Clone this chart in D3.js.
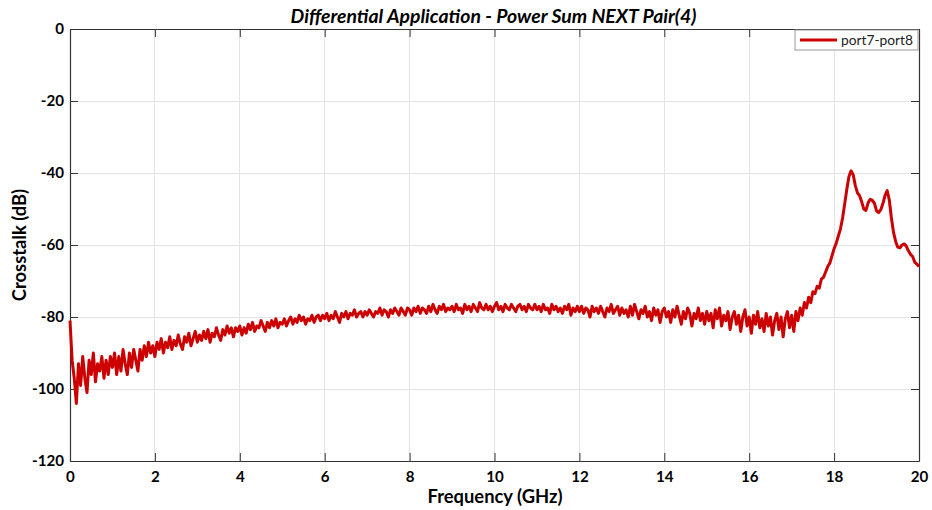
<!DOCTYPE html>
<html>
<head>
<meta charset="utf-8">
<script src="https://cdn.jsdelivr.net/npm/d3@7"></script>
<style>
  html, body { margin: 0; padding: 0; background: #fff; }
  svg { display: block; }
  text { font-family: Lato, "Open Sans", sans-serif; }
</style>
</head>
<body>
<svg id="chart" width="932" height="510"></svg>
<script>
// ---------------- data ----------------
const chartTitle = "Differential Application - Power Sum NEXT Pair(4)";
const xLabel = "Frequency (GHz)";
const yLabel = "Crosstalk (dB)";
const seriesName = "port7-port8";
const xTicks = [0, 2, 4, 6, 8, 10, 12, 14, 16, 18, 20];
const yTicks = [0, -20, -40, -60, -80, -100, -120];
const freqStartGHz = 0;
const freqStepGHz = 0.05;
// crosstalk (dB), one value every 0.05 GHz from 0 to 20 GHz (one row per GHz)
const crosstalkDb = [
  -81, -92, -97, -104, -93, -99, -91, -97, -101, -92, -96, -90, -98, -93, -95, -91, -97, -92, -96, -91,
  -94, -90, -96, -91, -95, -89, -93, -96, -90, -94, -89, -92, -95, -89, -92, -88, -91, -87, -90, -88,
  -91, -87, -89, -86, -90, -87, -88.5, -85.5, -89, -86.5, -88, -85, -87.5, -89, -85.5, -87, -84.5, -88, -86, -84,
  -87, -85, -86.5, -84, -86, -83.5, -87, -84.5, -85.5, -83, -85, -86.5, -83.5, -85, -82.5, -84.5, -83, -85.5, -83, -84,
  -82.5, -85, -83, -84.5, -82, -83.5, -81.5, -84, -82.5, -83, -81, -82.5, -84, -81.5, -83, -81, -82.5, -80.5, -83, -81.5,
  -82, -80.5, -82.5, -81, -80, -82, -80.5, -81.5, -79.5, -81, -80, -82, -80.5, -81, -79.5, -81.5, -80, -79.5, -81, -79.5,
  -80.5, -79, -81, -79.5, -80.5, -78.5, -80, -81.5, -79, -80, -78.5, -80.5, -79, -79.5, -78, -80, -79, -78.5, -80, -78.5,
  -79.5, -78, -79, -80, -78.5, -79, -77.5, -79.5, -78, -78.5, -80, -78, -79, -77.5, -78.5, -79.5, -77.5, -78.5, -79.5, -77.5,
  -78, -79.5, -77.5, -78.5, -77, -79, -77.5, -78, -79, -77, -78.5, -76.5, -78, -79, -77, -78, -76.5, -78.5, -77.5, -78,
  -77, -78.5, -76.5, -78, -77.5, -79, -76.5, -78, -77, -78.5, -76.5, -77.5, -78.5, -76, -77.5, -78, -76.5, -78, -77, -78.5,
  -77, -76, -78, -77, -78.5, -76.5, -77.5, -78, -76.5, -77.5, -78.5, -77, -76.5, -78, -77, -78.5, -76.5, -77.5, -78, -76.5,
  -78, -77, -78.5, -76.5, -78, -77.5, -79, -76.5, -78, -77, -78.5, -77.5, -79, -77, -78, -76.5, -79.5, -77.5, -78.5, -77,
  -78.5, -77, -79, -77.5, -78, -80, -77, -78.5, -77.5, -79, -77, -78.5, -80, -77.5, -78.5, -76.5, -79, -78, -77, -79.5,
  -77.5, -79, -78, -80, -77, -79.5, -76.5, -78.5, -80.5, -78, -79, -77, -80, -78.5, -81, -77.5, -79.5, -78, -81.5, -78.5,
  -77.5, -80, -78.5, -81.5, -78, -80, -77, -79.5, -82, -78.5, -80.5, -77.5, -79, -82.5, -79, -80.5, -77.5, -81, -79, -82,
  -78.5, -81, -79, -83, -78, -80.5, -77.5, -82.5, -79.5, -81, -78.5, -83.5, -80, -78.5, -82, -79.5, -84, -80, -78, -82.5,
  -80, -84.5, -79.5, -82, -78.5, -83, -80.5, -84, -79, -82.5, -80, -85, -81, -79, -83.5, -80, -85.5, -80.5, -78.5, -83,
  -79.5, -84, -78.5, -81, -77.5, -79.5, -76, -77.5, -74.5, -76, -73, -73.5, -71.5, -72, -69.5, -69, -67.5, -66, -65, -63,
  -61, -59.5, -57.5, -55.5, -52.5, -48.5, -44.5, -41, -39.4, -40.5, -43.5, -45.5, -46.3, -48, -50, -50.4, -48.3, -47.3, -47.6, -48.4,
  -50.5, -51, -50.2, -48.5, -46.2, -44.9, -47.5, -52.5, -56.5, -59, -60.6, -60.8, -60, -59.7, -60.3, -61.6, -62.6, -63.2, -64.8, -65.3,
  -66
];

// ---------------- layout ----------------
const W = 932, H = 510;
const margin = { top: 29, right: 13, bottom: 49, left: 70 };
const iw = W - margin.left - margin.right;
const ih = H - margin.top - margin.bottom;
const lineColor = "#cc0000";
const axisColor = "#333333";

const svg = d3.select("#chart");
const g = svg.append("g").attr("transform", `translate(${margin.left},${margin.top})`);

const x = d3.scaleLinear().domain([0, 20]).range([0, iw]);
const y = d3.scaleLinear().domain([-120, 0]).range([ih, 0]);

// fit a text element's font size so that its rendered width matches a target
function fitWidth(sel, target) {
  const node = sel.node();
  const fs = parseFloat(sel.attr("font-size"));
  const w = node.getComputedTextLength();
  if (w > 0) sel.attr("font-size", (fs * target / w).toFixed(2));
  return sel;
}
const numFmt = d => String(d).replace("\u2212", "-");

// grid
g.append("g").selectAll("line").data(xTicks.slice(1, -1)).join("line")
  .attr("x1", d => x(d)).attr("x2", d => x(d)).attr("y1", 0).attr("y2", ih)
  .attr("stroke", "#e3e3e3").attr("stroke-width", 1).attr("shape-rendering", "crispEdges");
g.append("g").selectAll("line").data(yTicks.slice(1, -1)).join("line")
  .attr("x1", 0).attr("x2", iw).attr("y1", d => y(d)).attr("y2", d => y(d))
  .attr("stroke", "#e3e3e3").attr("stroke-width", 1).attr("shape-rendering", "crispEdges");

// measure tick font size: "-120" should be about 32px wide
const probe = svg.append("text").attr("font-size", 16).attr("font-weight", "bold").text("-120");
fitWidth(probe, 32);
const tickFs = +probe.attr("font-size");
probe.remove();

// axes
const tickLen = 8;
const styleAxis = (sel) => {
  sel.select(".domain").attr("stroke", axisColor).attr("stroke-width", 1.2);
  sel.selectAll(".tick line").attr("stroke", axisColor);
  sel.selectAll(".tick text").attr("fill", "#000").attr("font-size", tickFs).attr("font-weight", "bold");
};
const xAxis = g.append("g").attr("transform", `translate(0,${ih})`)
  .call(d3.axisBottom(x).tickValues(xTicks).tickFormat(numFmt).tickSizeInner(-tickLen).tickSizeOuter(0).tickPadding(10))
  .call(styleAxis);
const yAxis = g.append("g")
  .call(d3.axisLeft(y).tickValues(yTicks).tickFormat(numFmt).tickSizeInner(-tickLen).tickSizeOuter(0).tickPadding(6))
  .call(styleAxis);
g.append("g")
  .call(d3.axisTop(x).tickValues(xTicks).tickFormat("").tickSizeInner(-tickLen).tickSizeOuter(0))
  .call(styleAxis);
g.append("g").attr("transform", `translate(${iw},0)`)
  .call(d3.axisRight(y).tickValues(yTicks).tickFormat("").tickSizeInner(-tickLen).tickSizeOuter(0))
  .call(styleAxis);

// line
const pts = crosstalkDb.map((v, i) => ({ f: freqStartGHz + i * freqStepGHz, v }));
g.append("path").datum(pts)
  .attr("fill", "none").attr("stroke", lineColor).attr("stroke-width", 3)
  .attr("stroke-linejoin", "round")
  .attr("d", d3.line().x(d => x(d.f)).y(d => y(d.v)));

// title
const titleEl = svg.append("text").attr("x", margin.left + iw / 2 - 1).attr("y", 23)
  .attr("text-anchor", "middle").attr("font-size", 16).attr("font-weight", "bold").attr("font-style", "italic")
  .text(chartTitle);
fitWidth(titleEl, 406);
// axis labels
const xl = svg.append("text").attr("x", 495).attr("y", 503)
  .attr("text-anchor", "middle").attr("font-size", 16).attr("font-weight", "bold").text(xLabel);
fitWidth(xl, 135);
svg.append("text").attr("transform", `translate(26,${margin.top + ih / 2}) rotate(-90)`)
  .attr("text-anchor", "middle").attr("font-size", xl.attr("font-size")).attr("font-weight", "bold").text(yLabel);

// legend
const lg = svg.append("g").attr("transform", `translate(${margin.left + iw - 124},${margin.top + 1})`);
lg.append("rect").attr("x", 0).attr("y", 0).attr("width", 123).attr("height", 20)
  .attr("fill", "#fff").attr("stroke", "#999").attr("stroke-width", 1);
lg.append("line").attr("x1", 5).attr("x2", 42).attr("y1", 10).attr("y2", 10)
  .attr("stroke", lineColor).attr("stroke-width", 3);
const lt = lg.append("text").attr("x", 46).attr("y", 15).attr("font-size", 13).attr("fill", "#222").text(seriesName);
fitWidth(lt, 72);
</script>
</body>
</html>
